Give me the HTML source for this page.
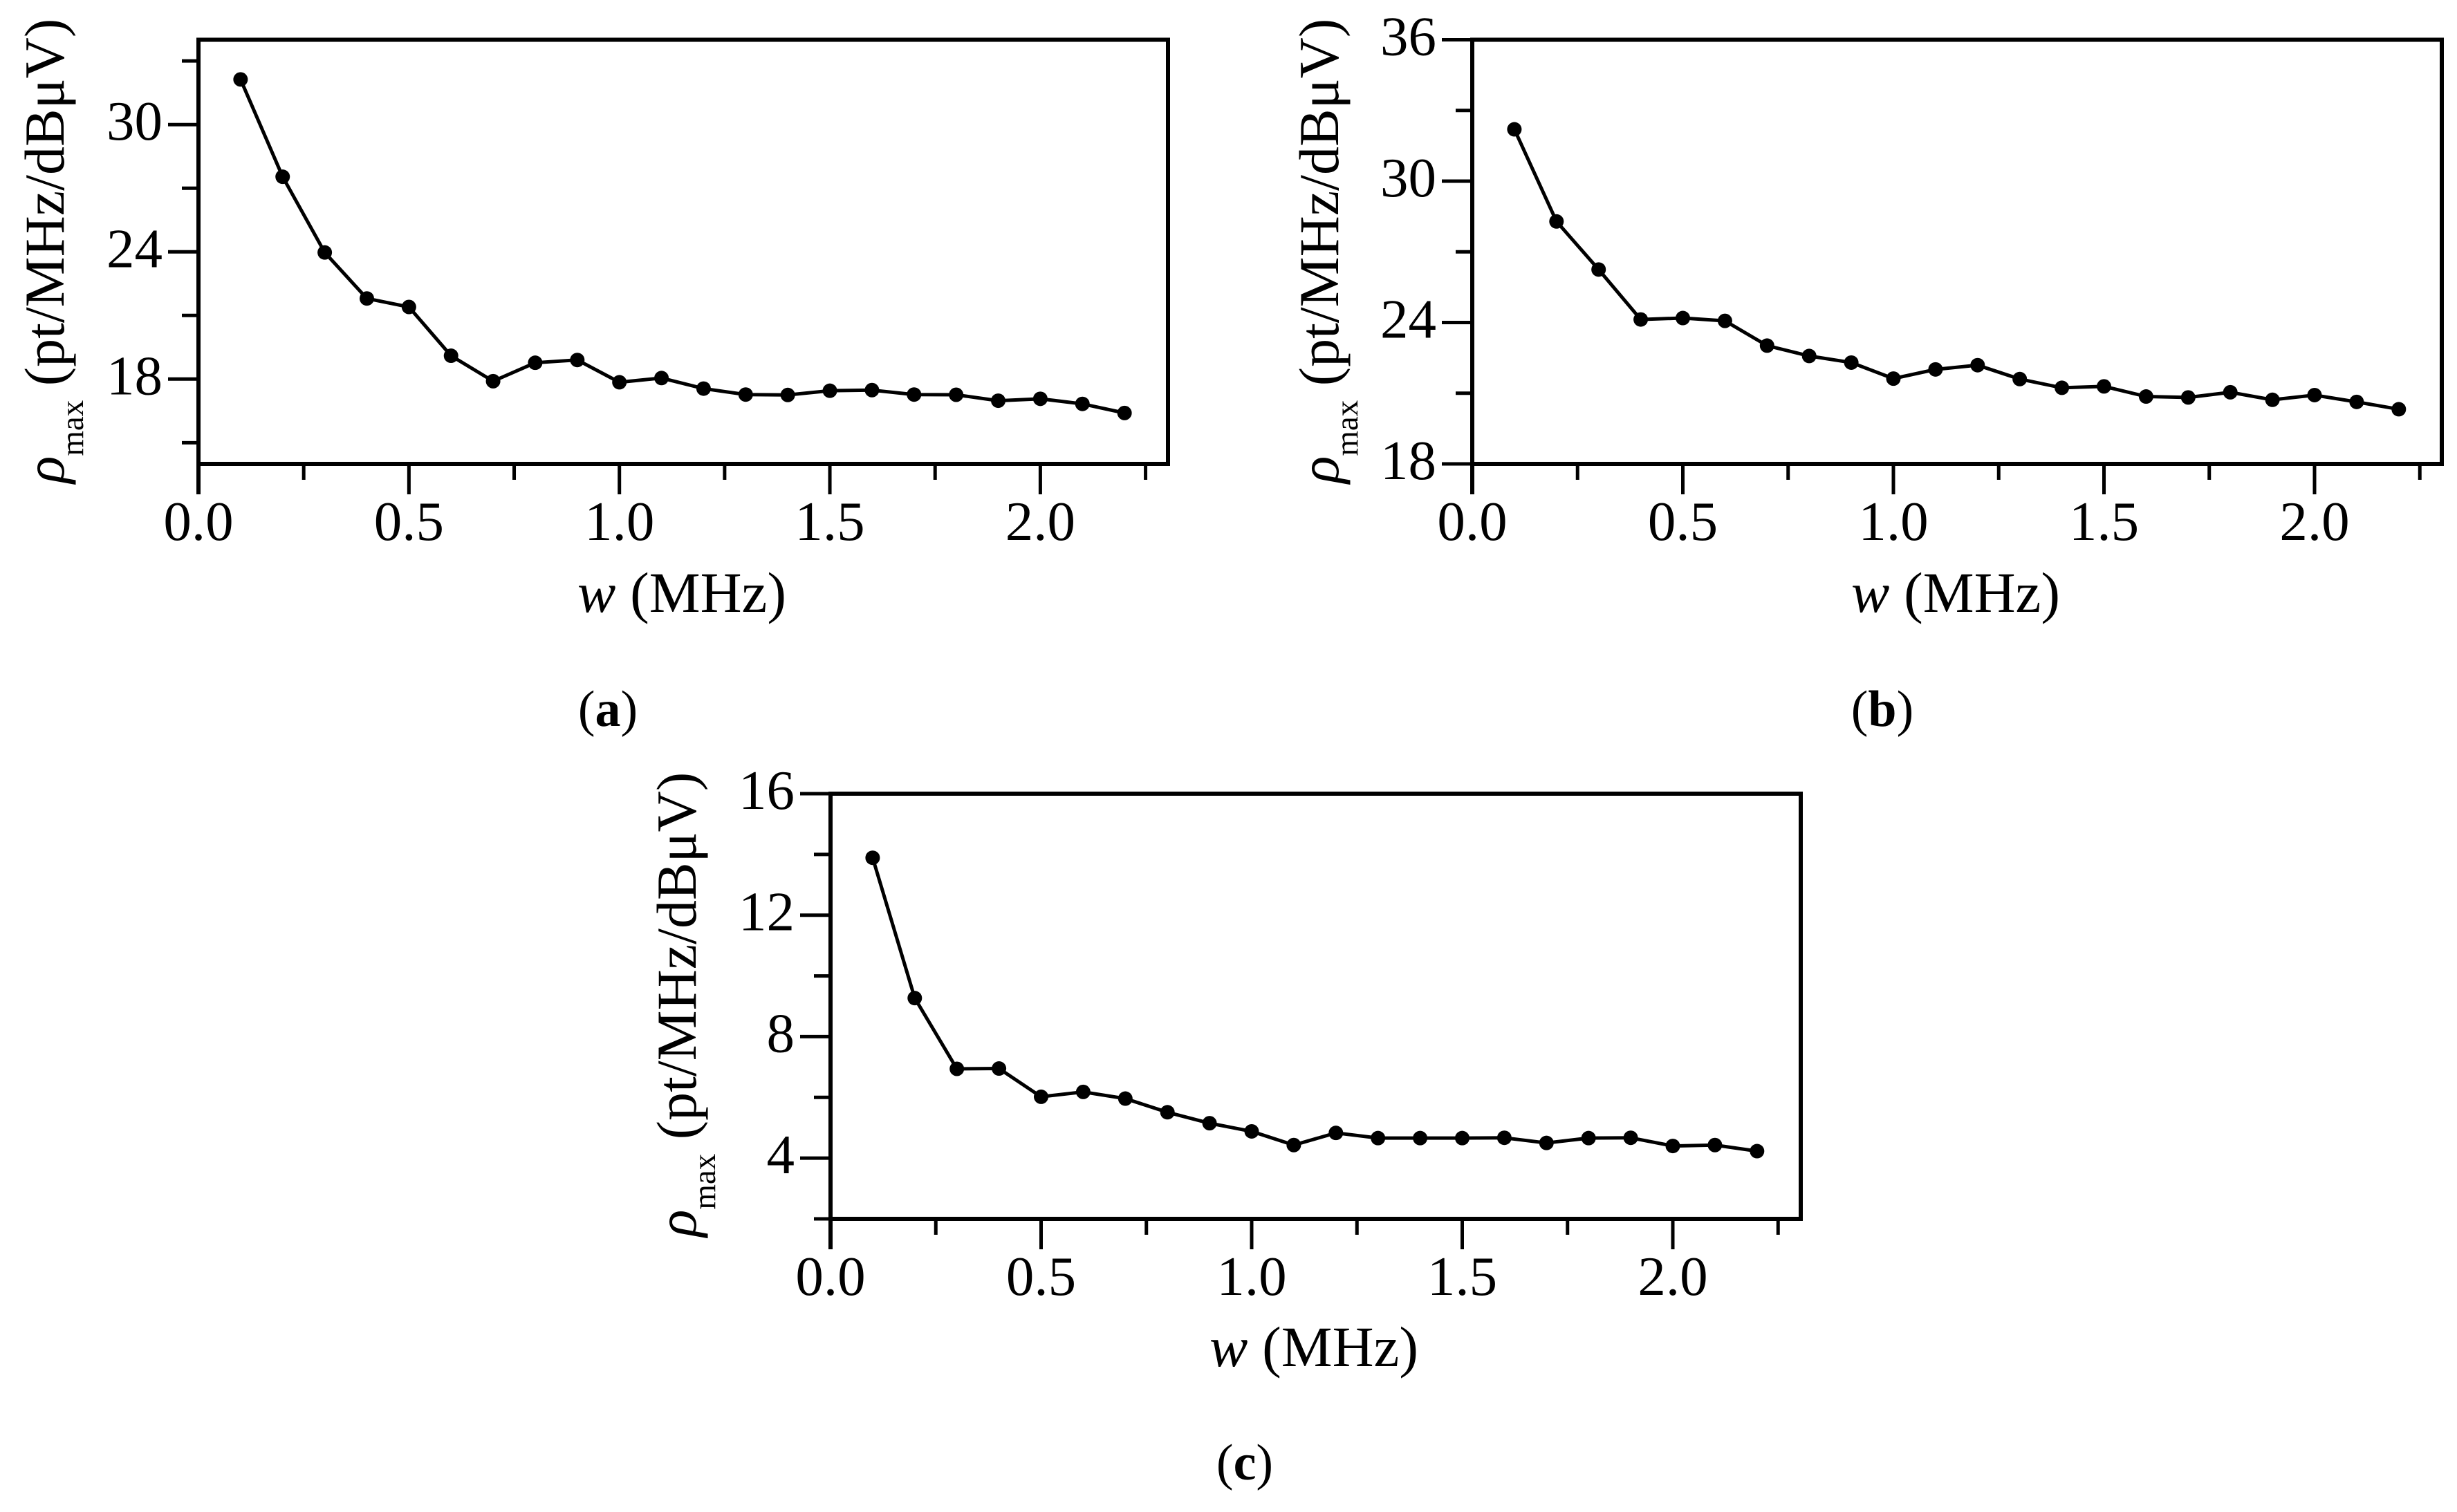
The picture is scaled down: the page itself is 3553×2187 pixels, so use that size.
<!DOCTYPE html>
<html lang="en">
<head>
<meta charset="utf-8">
<title>Peak density versus bandwidth charts</title>
<style>
html,body{margin:0;padding:0;background:#fff;}
svg{display:block;}
text{font-family:"Liberation Serif","DejaVu Serif",serif;fill:#000;}
</style>
</head>
<body>
<svg id="figure" xmlns="http://www.w3.org/2000/svg" width="3553" height="2187" viewBox="0 0 3553 2187">
  <rect x="0" y="0" width="3553" height="2187" fill="#fff"/>

  <g id="panel-a">
    <text transform="translate(92,699) rotate(-90)" font-size="82"><tspan font-style="italic">ρ</tspan><tspan dy="28" font-size="47">max</tspan><tspan dy="-28"> (pt/MHz/dBμV)</tspan></text>
    <text x="835" y="885" font-size="83"><tspan font-style="italic">w</tspan> (MHz)</text>
    <text x="879" y="1050" font-size="74" text-anchor="middle">(<tspan font-weight="bold">a</tspan>)</text>
  </g>

  <g id="panel-b">
    <text transform="translate(1935,699) rotate(-90)" font-size="82"><tspan font-style="italic">ρ</tspan><tspan dy="28" font-size="47">max</tspan><tspan dy="-28"> (pt/MHz/dBμV)</tspan></text>
    <text x="2677" y="885" font-size="83"><tspan font-style="italic">w</tspan> (MHz)</text>
    <text x="2722" y="1050" font-size="74" text-anchor="middle">(<tspan font-weight="bold">b</tspan>)</text>
  </g>

  <g id="panel-c">
    <text transform="translate(1006,1789) rotate(-90)" font-size="82"><tspan font-style="italic">ρ</tspan><tspan dy="28" font-size="47">max</tspan><tspan dy="-28"> (pt/MHz/dBμV)</tspan></text>
    <text x="1749" y="1976" font-size="83"><tspan font-style="italic">w</tspan> (MHz)</text>
    <text x="1800" y="2140" font-size="74" text-anchor="middle">(<tspan font-weight="bold">c</tspan>)</text>
  </g>
</svg>

<script>
var widths = [0.1,0.2,0.3,0.4,0.5,0.6,0.7,0.8,0.9,1.0,1.1,1.2,1.3,1.4,1.5,1.6,1.7,1.8,1.9,2.0,2.1,2.2];

var valuesA = [32.13,27.54,23.97,21.8,21.4,19.1,17.9,18.77,18.9,17.85,18.05,17.55,17.27,17.25,17.45,17.48,17.27,17.26,16.98,17.07,16.83,16.4];
var valuesB = [32.2,28.29,26.25,24.13,24.19,24.07,23.02,22.58,22.3,21.62,22.01,22.19,21.6,21.23,21.29,20.86,20.82,21.04,20.72,20.92,20.63,20.32];
var valuesC = [13.89,9.27,6.94,6.95,6.02,6.18,5.96,5.51,5.15,4.88,4.43,4.83,4.66,4.66,4.66,4.67,4.5,4.66,4.67,4.4,4.43,4.23];

var xMajorTicks = [0,0.5,1.0,1.5,2.0];
var xMajorLabels = ["0.0","0.5","1.0","1.5","2.0"];
var xMinorTicks = [0.25,0.75,1.25,1.75,2.25];

var yMajorTicksA = [30,24,18];
var yMajorLabelsA = ["30","24","18"];
var yMinorTicksA = [33,27,21,15];

var yMajorTicksB = [36,30,24,18];
var yMajorLabelsB = ["36","30","24","18"];
var yMinorTicksB = [33,27,21];

var yMajorTicksC = [16,12,8,4];
var yMajorLabelsC = ["16","12","8","4"];
var yMinorTicksC = [14,10,6,2];

var SVG_NS = "http://www.w3.org/2000/svg";

function makeLine(x1, y1, x2, y2, width) {
  var l = document.createElementNS(SVG_NS, "line");
  l.setAttribute("x1", x1);
  l.setAttribute("y1", y1);
  l.setAttribute("x2", x2);
  l.setAttribute("y2", y2);
  l.setAttribute("stroke", "#000");
  l.setAttribute("stroke-width", width);
  return l;
}

function drawPanel(p) {
  var g = document.getElementById("panel-" + p.id);
  function sx(w) { return p.left + w * p.unit; }
  function sy(v) { return p.bottom - (v - p.yMin) * (p.bottom - p.top) / (p.yMax - p.yMin); }

  var frame = document.createElementNS(SVG_NS, "rect");
  
  
  frame.setAttribute("x", p.left);
  frame.setAttribute("y", p.top);
  frame.setAttribute("width", p.right - p.left);
  frame.setAttribute("height", p.bottom - p.top);
  frame.setAttribute("fill", "none");
  frame.setAttribute("stroke", "#000");
  frame.setAttribute("stroke-width", 6);
  g.appendChild(frame);

  xMajorTicks.forEach(function (t, i) {
    var tick = makeLine(sx(t), p.bottom, sx(t), p.bottom + 44, t === 0 ? 6 : 5);
    
    
    g.appendChild(tick);
    var label = document.createElementNS(SVG_NS, "text");
    
    
    label.setAttribute("x", sx(t));
    label.setAttribute("y", p.bottom + 110);
    label.setAttribute("font-size", 81);
    label.setAttribute("text-anchor", "middle");
    label.textContent = xMajorLabels[i];
    g.appendChild(label);
  });

  xMinorTicks.forEach(function (t) {
    var tick = makeLine(sx(t), p.bottom, sx(t), p.bottom + 23, 5);
    
    
    g.appendChild(tick);
  });

  p.yMajor.forEach(function (v, i) {
    var tick = makeLine(p.left - 44, sy(v), p.left, sy(v), 5);
    
    
    g.appendChild(tick);
    var label = document.createElementNS(SVG_NS, "text");
    
    
    label.setAttribute("x", p.left - 52);
    label.setAttribute("y", sy(v) + 22);
    label.setAttribute("font-size", 81);
    label.setAttribute("text-anchor", "end");
    label.textContent = p.yLabels[i];
    g.appendChild(label);
  });

  p.yMinor.forEach(function (v) {
    var tick = makeLine(p.left - 24, sy(v), p.left, sy(v), 5);
    
    
    g.appendChild(tick);
  });

  var pts = widths.map(function (w, i) { return sx(w) + "," + sy(p.values[i]); }).join(" ");
  var line = document.createElementNS(SVG_NS, "polyline");
  
  
  line.setAttribute("points", pts);
  line.setAttribute("fill", "none");
  line.setAttribute("stroke", "#000");
  line.setAttribute("stroke-width", 5);
  g.appendChild(line);

  widths.forEach(function (w, i) {
    var c = document.createElementNS(SVG_NS, "circle");
    
    
    c.setAttribute("cx", sx(w));
    c.setAttribute("cy", sy(p.values[i]));
    c.setAttribute("r", 10.5);
    c.setAttribute("fill", "#000");
    g.appendChild(c);
  });
}

drawPanel({id:"a", left:287, right:1689, top:57.5, bottom:671, unit:608.7, yMin:14, yMax:34, values:valuesA, yMajor:yMajorTicksA, yLabels:yMajorLabelsA, yMinor:yMinorTicksA});
drawPanel({id:"b", left:2129, right:3531, top:57.5, bottom:671, unit:609, yMin:18, yMax:36, values:valuesB, yMajor:yMajorTicksB, yLabels:yMajorLabelsB, yMinor:yMinorTicksB});
drawPanel({id:"c", left:1201, right:2604, top:1148, bottom:1763, unit:609, yMin:2, yMax:16, values:valuesC, yMajor:yMajorTicksC, yLabels:yMajorLabelsC, yMinor:yMinorTicksC});
</script>
</body>
</html>
